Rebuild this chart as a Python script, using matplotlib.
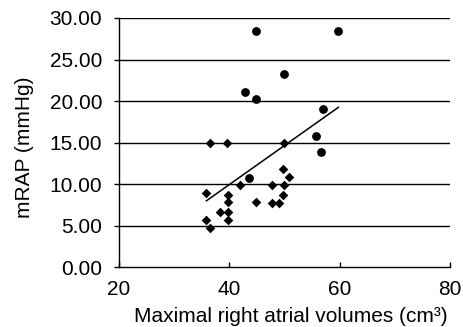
import matplotlib
matplotlib.use("Agg")
import matplotlib.pyplot as plt
import numpy as np

# Data
circle_x = [44.8, 59.7, 49.9, 42.8, 44.8, 57.0, 55.8, 56.7, 43.7]
circle_y = [28.4, 28.4, 23.2, 21.1, 20.2, 19.1, 15.8, 13.85, 10.7]

diamond_x = [36.6, 39.6, 49.9, 35.9, 35.9, 36.6, 38.4, 39.8, 39.8, 39.8, 39.8,
             41.9, 44.8, 47.8, 47.7, 49.0, 49.7, 49.9, 49.7, 50.8]
diamond_y = [15.0, 15.0, 15.0, 8.9, 5.7, 4.7, 6.7, 8.7, 7.8, 6.7, 5.7,
             9.85, 7.8, 9.85, 7.7, 7.7, 8.7, 9.85, 11.85, 10.85]

trend_x = [35.9, 59.8]
trend_y = [8.0, 19.25]

x_ticks = [20, 40, 60, 80]
y_ticks = [0, 5, 10, 15, 20, 25, 30]

plt.rcParams['font.family'] = ['Liberation Sans', 'DejaVu Sans']

fig = plt.figure(figsize=(4.63, 3.27), dpi=100)
ax = fig.add_axes([0.256, 0.1826, 0.716, 0.7624])

for yv in y_ticks[1:]:
    ax.axhline(yv, color='black', lw=1.0, zorder=1)

ax.plot(trend_x, trend_y, color='black', lw=1.1, zorder=2)
ax.scatter(diamond_x, diamond_y, marker='D', s=24, color='black', zorder=3, linewidths=0)
ax.scatter(circle_x, circle_y, marker='o', s=40, color='black', zorder=3, linewidths=0)

ax.set_xlim(20, 80)
ax.set_ylim(0, 30)
ax.set_xticks(x_ticks)
ax.set_yticks(y_ticks)
ax.set_yticklabels([f"{v:.2f}" for v in y_ticks])
ax.spines['top'].set_visible(False)
ax.spines['right'].set_visible(False)
ax.spines['left'].set_linewidth(1.0)
ax.spines['bottom'].set_linewidth(1.0)
ax.tick_params(axis='y', direction='out', length=3.7, width=1.0, labelsize=15, pad=8)
ax.tick_params(axis='x', direction='in', length=3.7, width=1.0, labelsize=15, pad=9)

ax.set_xlabel("Maximal right atrial volumes (cm\u00b3)", fontsize=15)
ax.set_ylabel("mRAP (mmHg)", fontsize=15)
ax.xaxis.set_label_coords(0.52, -0.236, transform=ax.transAxes)
ax.xaxis.label.set_verticalalignment('bottom')
ax.yaxis.set_label_coords(-0.255, 0.483, transform=ax.transAxes)

fig.savefig("out.png", dpi=100)
